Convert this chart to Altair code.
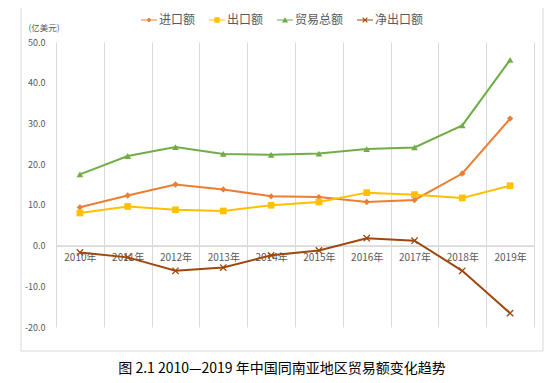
import altair as alt
import pandas as pd

# ---- data ----
years = [2010, 2011, 2012, 2013, 2014, 2015, 2016, 2017, 2018, 2019]
series_names = ["进口额", "出口额", "贸易总额", "净出口额"]
imports = [9.4, 12.3, 15.0, 13.8, 12.1, 11.9, 10.7, 11.2, 17.7, 31.2]
exports = [8.0, 9.6, 8.8, 8.5, 9.9, 10.7, 13.0, 12.5, 11.7, 14.7]
totals = [17.5, 22.0, 24.2, 22.5, 22.3, 22.6, 23.7, 24.1, 29.5, 45.6]
net_exports = [-1.7, -2.9, -6.2, -5.4, -2.4, -1.2, 1.8, 1.2, -6.2, -16.6]
y_ticks = [-20, -10, 0, 10, 20, 30, 40, 50]
y_unit = "(亿美元)"
caption = "图 2.1 2010—2019 年中国同南亚地区贸易额变化趋势"

values_by_series = [imports, exports, totals, net_exports]
df = pd.DataFrame(
    [
        {"year": y, "series": s, "value": v}
        for s, vals in zip(series_names, values_by_series)
        for y, v in zip(years, vals)
    ]
)

# ---- style ----
W, H = 478, 285
colors = ["#ED7D31", "#FFC000", "#70AD47", "#9E480E"]
markers = ["diamond", "square", "triangle-up", "M-1,-1L1,1M-1,1L1,-1"]
marker_sizes = [40, 45, 45, 40]
marker_filled = [True, True, True, False]
FONT = "Noto Sans CJK SC"
GRAY = "#595959"
GRID = "#d9d9d9"

bar = "M-1,-0.07L1,-0.07L1,0.07L-1,0.07Z"
t = 0.045
xpath = (
    f"M{-0.3+t},{-0.3-t}L{0.3+t},{0.3-t}L{0.3-t},{0.3+t}L{-0.3-t},{-0.3+t}Z"
    f"M{0.3-t},{-0.3-t}L{0.3+t},{-0.3+t}L{-0.3+t},{0.3+t}L{-0.3-t},{0.3-t}Z"
)
legend_paths = [
    bar + "M0,-0.3L0.3,0L0,0.3L-0.3,0Z",
    bar + "M-0.33,-0.33L0.33,-0.33L0.33,0.33L-0.33,0.33Z",
    bar + "M0,-0.36L0.38,0.3L-0.38,0.3Z",
    bar + xpath,
]

ymin, ymax = y_ticks[0], y_ticks[-1]
xscale = alt.Scale(domain=[years[0] - 0.5, years[-1] + 0.5], nice=False, zero=False)
yscale = alt.Scale(domain=[ymin, ymax], nice=False, zero=False)

grid_axis = alt.Axis(
    orient="top", values=[y - 0.5 for y in years] + [years[-1] + 0.5],
    grid=True, gridColor=GRID, gridWidth=1, labels=False, ticks=False,
    domain=False, title=None,
)
zero_offset = -(H * (0 - ymin) / (ymax - ymin))
label_axis = alt.Axis(
    orient="bottom", values=years, labelExpr="datum.value + '年'",
    grid=False, ticks=False, domain=True, domainColor=GRID, domainWidth=1.8,
    labelFont=FONT, labelFontSize=10, labelColor=GRAY, labelPadding=7,
    offset=zero_offset, title=None, labelFlush=False,
)
y_axis = alt.Axis(
    orient="left",
    values=y_ticks, labelExpr="replace(format(datum.value, '.1f'), '−', '-')",
    grid=False, ticks=False, domain=False, labelFont=FONT, labelFontSize=9,
    labelColor=GRAY, labelPadding=11, title=y_unit, titleAngle=0, titleX=-28,
    titleY=-15, titleAlign="left", titleBaseline="middle", titleFont=FONT,
    titleFontSize=8.5, titleFontWeight="normal", titleColor=GRAY,
)


def xenc(axis=None):
    if axis is None:
        return alt.X("year:Q", scale=xscale, axis=None)
    return alt.X("year:Q", scale=xscale, axis=axis)


def yenc(axis=None):
    if axis is None:
        return alt.Y("value:Q", scale=yscale, axis=None)
    return alt.Y("value:Q", scale=yscale, axis=axis)


box = alt.Chart(pd.DataFrame({"a": [0]})).mark_rect(
    fillOpacity=0, stroke=GRID, strokeWidth=1
).encode(x=alt.value(-35), x2=alt.value(487), y=alt.value(-36), y2=alt.value(309))

layers = [box]
for i, name in enumerate(series_names):
    base = alt.Chart(df).transform_filter(alt.datum.series == name)
    line = base.mark_line(color=colors[i], strokeWidth=2).encode(
        x=xenc(grid_axis if i == 0 else None),
        y=yenc(y_axis if i == 0 else None),
    )
    if marker_filled[i]:
        pts = base.mark_point(
            shape=markers[i], size=marker_sizes[i], filled=True,
            color=colors[i], opacity=1,
        )
    else:
        pts = base.mark_point(
            shape=markers[i], size=marker_sizes[i], filled=False,
            color=colors[i], opacity=1, strokeWidth=1.3,
        )
    pts = pts.encode(
        x=xenc(label_axis if i == 0 else None),
        y=yenc(None),
    )
    layers += [line, pts]

leg = alt.Legend(
    title=None, orient="none", legendX=85, legendY=-30, direction="horizontal",
    labelFont=FONT, labelFontSize=12, labelColor=GRAY, symbolSize=256,
    symbolOpacity=1, symbolStrokeWidth=0, columnPadding=13, labelOffset=2,
    padding=0,
)
legend_layer = alt.Chart(df).mark_point(opacity=0, filled=True).encode(
    x=xenc(None),
    y=yenc(None),
    color=alt.Color("series:N", scale=alt.Scale(domain=series_names, range=colors), legend=leg),
    shape=alt.Shape("series:N", scale=alt.Scale(domain=series_names, range=legend_paths), legend=leg),
)
layers.append(legend_layer)

cap = alt.Chart(pd.DataFrame({"t": [caption]})).mark_text(
    font=FONT, fontSize=14, color="#000000", align="center", baseline="middle"
).encode(text="t:N", x=alt.value(226), y=alt.value(327))
layers.append(cap)

chart = (
    alt.layer(*layers)
    .resolve_axis(x="independent", y="independent")
    .properties(width=W, height=H, padding={"left": 12, "top": -3, "right": 5, "bottom": 5})
    .configure_view(strokeWidth=0)
)

chart.save("out.html", embed_options={"renderer": "svg", "actions": False})
